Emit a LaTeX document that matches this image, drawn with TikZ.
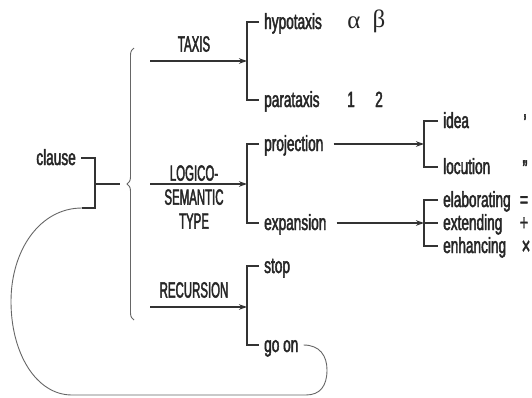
\documentclass[tikz,border=0pt]{standalone}
\usepackage{fontspec}
\setmainfont{Liberation Sans}[FakeStretch=0.62,FakeBold=2]
\newfontfamily\capf{Liberation Sans}[FakeStretch=0.52,FakeBold=2]
\newfontfamily\grk{Liberation Serif}
\usetikzlibrary{arrows.meta,decorations.pathreplacing}

\begin{document}
\begin{tikzpicture}[x=1pt,y=-1pt,
  every node/.style={font=\fontsize{22}{24}\selectfont, text=black!85},
  lbl/.style={inner xsep=5pt, inner ysep=0pt, text height=15pt, text depth=1pt},
  sym/.style={inner sep=0pt, text height=15pt, text depth=1pt},
  cat/.style={align=center, inner sep=0pt, font=\fontsize{22}{24}\selectfont\capf},
  grksym/.style={sym, font=\fontsize{25}{24}\selectfont\grk},
  quotemark/.style={sym, font=\fontsize{24}{24}\selectfont},
  ln/.style={line width=1.2pt, draw=black!80},
  arr/.style={ln, -{Stealth[length=8pt,width=5.5pt]}},
  loopline/.style={line width=0.9pt, draw=black!60}]

\useasboundingbox (0,0) rectangle (532,397);

\node[lbl, anchor=east] (clause) at (81,158) {clause};

\node[cat] (taxis) at (194,44) {TAXIS};
\node[cat] (logico) at (194,197) {LOGICO-\\SEMANTIC\\TYPE};
\node[cat] (recur) at (194,290) {RECURSION};

\node[lbl, anchor=west] (hypo) at (259,22) {hypotaxis};
\node[lbl, anchor=west] (para) at (259,100) {parataxis};
\node[lbl, anchor=west] (proj) at (259,144) {projection};
\node[lbl, anchor=west] (expn) at (259,223) {expansion};
\node[lbl, anchor=west] (stop) at (259,266) {stop};
\node[lbl, anchor=west] (goon) at (259,345) {go on};

\node[grksym] (alpha) at (354,21) {α};
\node[grksym] (beta) at (379,20) {β};
\node[sym] (one) at (351,100) {1};
\node[sym] (two) at (379,100) {2};

\node[lbl, anchor=west] (idea) at (438,121) {idea};
\node[lbl, anchor=west] (locu) at (438,167) {locution};
\node[lbl, anchor=west] (elab) at (438,200) {elaborating};
\node[lbl, anchor=west] (extd) at (438,223) {extending};
\node[lbl, anchor=west] (enh) at (438,246) {enhancing};

\node[quotemark] (quote) at (525,124) {’};
\node[quotemark] (dquote) at (525,170) {”};
\node[sym] (equal) at (524,200) {=};
\node[sym] (plus) at (524,223) {+};
\node[quotemark] (times) at (526,247) {×};

\coordinate (join) at (95,184);
\coordinate (fork) at (120,184);
\coordinate (t0) at (150,61);
\coordinate (t1) at (247,61);
\coordinate (l0) at (150,184);
\coordinate (l1) at (247,184);
\coordinate (r0) at (150,307);
\coordinate (r1) at (247,307);
\coordinate (p1) at (424,144);
\coordinate (e1) at (424,223);

\draw[ln] (clause.east) -| (95,208) -- (82,208);
\draw[ln] (join) -- (fork);
\draw[decorate, decoration={brace, amplitude=7pt}, line width=0.9pt, black!60]
  (134,320) -- (134,48);

\draw[arr] (t0) -- (t1);
\draw[arr] (l0) -- (l1);
\draw[arr] (r0) -- (r1);

\draw[ln] (hypo.west) -| (t1) |- (para.west);
\draw[ln] (proj.west) -| (l1) |- (expn.west);
\draw[ln] (stop.west) -| (r1) |- (goon.west);

\draw[arr] ([xshift=5pt]proj.east) -- (p1);
\draw[arr] ([xshift=5pt]expn.east) -- (e1);
\draw[ln] (idea.west) -| (p1) |- (locu.west);
\draw[ln] (elab.west) -| (e1) |- (enh.west);
\draw[ln] (e1) -- (extd.west);

\draw[loopline] (goon.east) .. controls (320,345) and (327,356) .. (327,370)
  .. controls (327,386) and (320,395) .. (306,395) -- (72,395)
  .. controls (36,395) and (11,353) .. (11,301.5)
  .. controls (11,250) and (40,208) .. (82,208);

\end{tikzpicture}
\end{document}
